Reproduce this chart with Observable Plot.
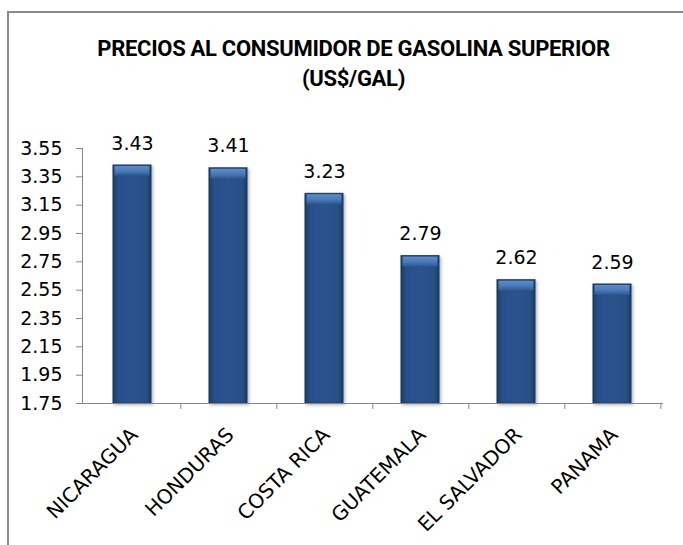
<!DOCTYPE html>
<html>
<head>
<meta charset="utf-8">
<script src="https://cdn.jsdelivr.net/npm/d3@7"></script>
<script src="https://cdn.jsdelivr.net/npm/@observablehq/plot@0.6"></script>
<style>
  html, body { margin: 0; padding: 0; background: #fff; width: 683px; height: 545px; overflow: hidden; }
  #frame { position: absolute; left: 7px; top: 11px; width: 676px; height: 534px; border-left: 2px solid #8a8a8a; border-top: 2px solid #8a8a8a; box-sizing: border-box; }
  #title { position: absolute; left: 0; width: 707px; top: 34px; text-align: center; font-family: Roboto, sans-serif; font-weight: bold; font-size: 22px; line-height: 29.5px; letter-spacing: -0.3px; color: #000; white-space: nowrap; }
  #chart { position: absolute; left: 0; top: 100px; }
</style>
</head>
<body>
<div id="frame"></div>
<div id="title">PRECIOS AL CONSUMIDOR DE GASOLINA SUPERIOR<br>(US$/GAL)</div>
<div id="chart"></div>
<script>
const countries = ["NICARAGUA", "HONDURAS", "COSTA RICA", "GUATEMALA", "EL SALVADOR", "PANAMA"];
const prices = [3.43, 3.41, 3.23, 2.79, 2.62, 2.59];
const yTicks = [1.75, 1.95, 2.15, 2.35, 2.55, 2.75, 2.95, 3.15, 3.35, 3.55];

const data = countries.map((c, i) => ({country: c, value: prices[i]}));
const fmt = d3.format(".2f");

const chart = Plot.plot({
  width: 683,
  height: 445,
  marginTop: 48,
  marginLeft: 82,
  marginRight: 20,
  marginBottom: 142,
  style: {fontFamily: "'DejaVu Sans', sans-serif", fontSize: "19px", color: "#000", background: "transparent", overflow: "visible"},
  x: {domain: countries, paddingInner: 0.6, paddingOuter: 0.3, label: null, axis: null},
  y: {domain: [yTicks[0], yTicks[yTicks.length - 1]], label: null, axis: null},
  marks: [
    Plot.barY(data, {x: "country", y1: yTicks[0], y2: "value", fill: "url(#barGrad)", stroke: "#1b3658", strokeWidth: 1, className: "bar"}),
    Plot.barY(data, {x: "country", y1: "value", y2: "value", insetBottom: -11, insetLeft: 1.5, insetRight: 1.5, insetTop: 1, fill: "url(#bevelGrad)"}),
    Plot.frame({anchor: "left", stroke: "#868686"}),
    Plot.ruleY([yTicks[0]], {stroke: "#868686"}),
    Plot.ruleX(countries, {x: d => d, dx: 48.4, y1: yTicks[0], y2: yTicks[0], insetBottom: -6, stroke: "#868686"}),
    Plot.axisY({ticks: yTicks, tickFormat: fmt, tickSize: 6, tickPadding: 14, stroke: "#868686", fill: "#000", fontSize: 19}),
    Plot.axisX({tickSize: 0, tickRotate: -45, tickPadding: 28, dx: 2, fill: "#000", fontSize: 20}),
    Plot.text(data, {x: "country", y: "value", text: d => fmt(d.value), lineAnchor: "middle", dy: -22, fill: "#000", fontSize: 19})
  ]
});

const svg = d3.select(chart);
const defs = svg.insert("defs", ":first-child");
const g1 = defs.append("linearGradient").attr("id", "barGrad").attr("x1", "0").attr("x2", "1").attr("y1", "0").attr("y2", "0");
[["0%", "#1c3a64"], ["12%", "#284f86"], ["50%", "#2b548e"], ["88%", "#284f86"], ["100%", "#1c3a64"]]
  .forEach(([o, c]) => g1.append("stop").attr("offset", o).attr("stop-color", c));
const g2 = defs.append("linearGradient").attr("id", "bevelGrad").attr("x1", "0").attr("x2", "0").attr("y1", "0").attr("y2", "1");
[["0%", "#5f8dca"], ["55%", "#4878b5"], ["100%", "#2b548e"]]
  .forEach(([o, c]) => g2.append("stop").attr("offset", o).attr("stop-color", c));
const f = defs.append("filter").attr("id", "shadow").attr("x", "-20%").attr("y", "-20%").attr("width", "140%").attr("height", "140%");
f.append("feDropShadow").attr("dx", 1.5).attr("dy", 1.5).attr("stdDeviation", 1.5).attr("flood-color", "#000").attr("flood-opacity", 0.3);
svg.selectAll("g.bar").attr("filter", "url(#shadow)");

document.getElementById("chart").appendChild(chart);
</script>
</body>
</html>
